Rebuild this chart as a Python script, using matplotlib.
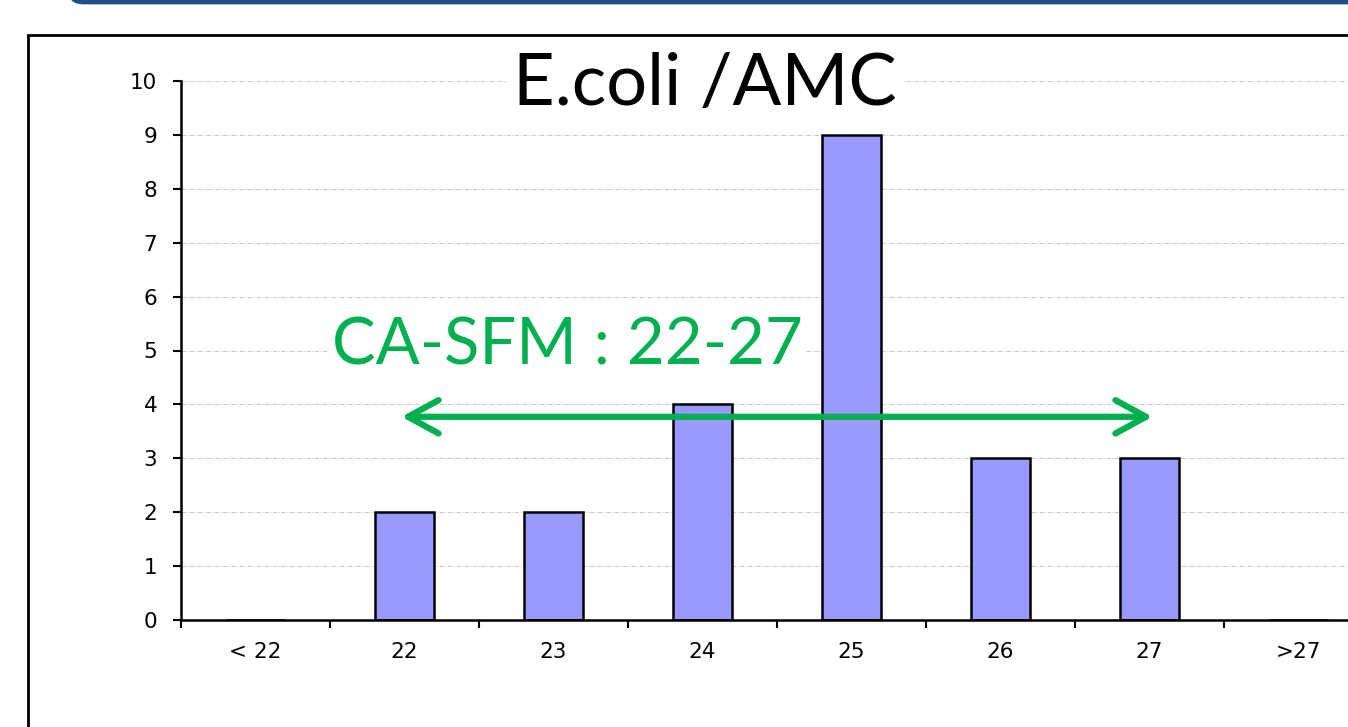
import numpy as np
import matplotlib.pyplot as plt
from matplotlib.patches import Rectangle, FancyArrowPatch, FancyBboxPatch

categories = ['< 22', '22', '23', '24', '25', '26', '27', '>27']
counts = [0, 2, 2, 4, 9, 3, 3, 0]
title = 'E.coli /AMC'
range_label = 'CA-SFM : 22-27'
range_from = '22'
range_to = '27'

bar_color = '#9999FF'
green = '#00B050'

fig = plt.figure(figsize=(13.48, 7.27), dpi=100)

# slide frame: blue header strip + black box around the chart
fig.patches.append(FancyBboxPatch((0.05, 0.994), 1.0, 0.03, boxstyle='round,pad=0,rounding_size=0.012',
                                  transform=fig.transFigure, facecolor='#1F4E87', edgecolor='none',
                                  mutation_aspect=1.85))
fig.patches.append(Rectangle((0.0205, -0.1), 1.1, 0.1 + 0.9515, transform=fig.transFigure,
                             fill=False, edgecolor='black', linewidth=2.0))

ax = fig.add_axes([181 / 1348, 107 / 727, 1192 / 1348, 539 / 727])
x = np.arange(len(categories))
ax.bar(x, counts, width=0.4, color=bar_color, edgecolor='black', linewidth=1.8, zorder=3)

ax.set_xlim(-0.5, len(categories) - 0.5)
ax.set_ylim(0, 10)
ax.set_yticks(range(0, 11))
ax.set_xticks(x)
ax.set_xticklabels(categories)
ax.set_xticks(np.arange(-0.5, len(categories)), minor=True)

ax.tick_params(axis='y', length=6, width=1.5, pad=11, labelsize=15.5)
ax.tick_params(axis='x', which='major', length=0, pad=16, labelsize=15.5)
ax.tick_params(axis='x', which='minor', length=6, width=1.5, direction='out')

for s in ['top', 'right']:
    ax.spines[s].set_visible(False)
for s in ['left', 'bottom']:
    ax.spines[s].set_linewidth(1.8)
    ax.spines[s].set_zorder(4)

ax.grid(axis='y', color='#C8C8C8', linewidth=0.75, linestyle=(0, (4, 1.5, 1, 1.5)), zorder=0)
ax.set_axisbelow(True)

# reference range arrow
i0 = categories.index(range_from)
i1 = categories.index(range_to)
arr = FancyArrowPatch((i0 - 0.02, 3.77), (i1 + 0.02, 3.77), arrowstyle='<->,head_length=1.1,head_width=0.6',
                      mutation_scale=20, color=green, linewidth=4.5, shrinkA=0, shrinkB=0,
                      capstyle='round', joinstyle='round', zorder=5)
ax.add_patch(arr)

# text boxes are white-filled, they hide the grid lines behind them
fig.text(0.523, 0.8556, title, fontsize=52, family='Lato', ha='center', va='baseline',
         bbox=dict(facecolor='white', edgecolor='none', pad=4))
fig.text(0.4206, 0.498, range_label, fontsize=47, family='Lato', color=green, ha='center', va='baseline',
         bbox=dict(facecolor='white', edgecolor='none', pad=2))

fig.savefig('out.png', dpi=100)
